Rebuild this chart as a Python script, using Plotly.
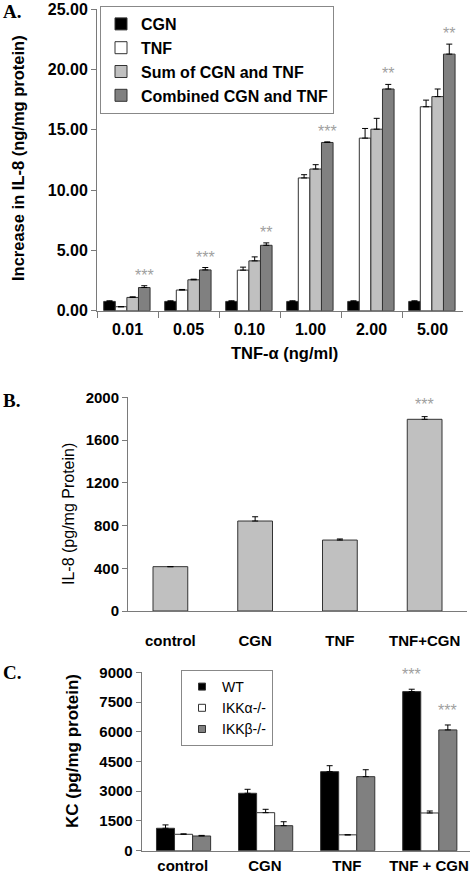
import plotly.graph_objects as go

W, H = 475, 874
FONT = "Arial, 'Liberation Sans', sans-serif"

# ---------------- data ----------------
a_categories = ["0.01", "0.05", "0.10", "1.00", "2.00", "5.00"]
a_cgn = [0.77, 0.77, 0.77, 0.77, 0.77, 0.77]
a_cgn_err = [0.05, 0.05, 0.05, 0.05, 0.05, 0.05]
a_tnf = [0.33, 1.71, 3.36, 11.0, 14.3, 16.9]
a_tnf_err = [0.0, 0.05, 0.25, 0.27, 0.8, 0.55]
a_sum = [1.10, 2.56, 4.13, 11.74, 15.04, 17.74]
a_sum_err = [0.05, 0.05, 0.33, 0.36, 0.9, 0.63]
a_comb = [1.92, 3.38, 5.42, 13.94, 18.37, 21.26]
a_comb_err = [0.15, 0.2, 0.2, 0.05, 0.38, 0.83]
a_stars = ["***", "***", "**", "***", "**", "**"]
a_yticks = [0, 5, 10, 15, 20, 25]

b_categories = ["control", "CGN", "TNF", "TNF+CGN"]
b_il8 = [415, 842, 664, 1794]
b_il8_err = [0, 40, 10, 25]
b_stars = ["", "", "", "***"]
b_yticks = [0, 400, 800, 1200, 1600, 2000]

c_categories = ["control", "CGN", "TNF", "TNF + CGN"]
c_wt = [1131, 2897, 3988, 8026]
c_wt_err = [170, 200, 300, 120]
c_ikka = [828, 1918, 800, 1903]
c_ikka_err = [20, 170, 0, 100]
c_ikkb = [742, 1262, 3735, 6093]
c_ikkb_err = [30, 200, 350, 250]
c_wt_stars = ["", "", "", "***"]
c_ikkb_stars = ["", "", "", "***"]
c_yticks = [0, 1500, 3000, 4500, 6000, 7500, 9000]

# ---------------- helpers ----------------
def px(x):
    return x / W

def py(y):
    return 1 - y / H

LINE = "#333333"
AXIS = "#7a7a7a"
STAR = dict(size=16, color="#a0a0a0", family=FONT)

def err(arr):
    return dict(type="data", array=arr, arrayminus=[0] * len(arr), symmetric=False,
                color="black", thickness=1, width=3)

fig = go.Figure()

# ---------------- panel A ----------------
a_series = [
    ("CGN", a_cgn, a_cgn_err, "#000000"),
    ("TNF", a_tnf, a_tnf_err, "#ffffff"),
    ("Sum of CGN and TNF", a_sum, a_sum_err, "#c0c0c0"),
    ("Combined CGN and TNF", a_comb, a_comb_err, "#808080"),
]
a_w = 0.19
a_off = [-0.39, -0.20, -0.01, 0.18]
for k, (name, vals, e, col) in enumerate(a_series):
    fig.add_trace(go.Bar(
        x=a_categories, y=vals, name=name, width=a_w, offset=a_off[k],
        marker=dict(color=col, line=dict(color=LINE, width=1)),
        error_y=err(e), xaxis="x", yaxis="y", legend="legend",
        legendgroup=name,
    ))

for i, s in enumerate(a_stars):
    if s:
        fig.add_annotation(x=i + a_off[3] + a_w / 2, y=a_comb[i] + a_comb_err[i],
                           xref="x", yref="y", text=s, showarrow=False,
                           xanchor="center", yanchor="bottom", yshift=0, font=STAR)

# ---------------- panel B ----------------
b_w = 0.41
fig.add_trace(go.Bar(
    x=b_categories, y=b_il8, width=b_w, offset=-b_w / 2, showlegend=False,
    marker=dict(color="#c0c0c0", line=dict(color=LINE, width=1)),
    error_y=err(b_il8_err), xaxis="x2", yaxis="y2",
))
for i, s in enumerate(b_stars):
    if s:
        fig.add_annotation(x=i, y=b_il8[i] + b_il8_err[i],
                           xref="x2", yref="y2", text=s, showarrow=False,
                           xanchor="center", yanchor="bottom", yshift=2, font=STAR)

# ---------------- panel C ----------------
c_series = [
    ("WT", c_wt, c_wt_err, "#000000"),
    ("IKKα-/-", c_ikka, c_ikka_err, "#ffffff"),
    ("IKKβ-/-", c_ikkb, c_ikkb_err, "#808080"),
]
c_w = 0.22
c_off = [-0.32, -0.10, 0.12]
for k, (name, vals, e, col) in enumerate(c_series):
    fig.add_trace(go.Bar(
        x=c_categories, y=vals, name=name, width=c_w, offset=c_off[k],
        marker=dict(color=col, line=dict(color=LINE, width=1)),
        error_y=err(e), xaxis="x3", yaxis="y3", showlegend=False,
    ))
    # legend proxy with small square symbol
    fig.add_trace(go.Scatter(
        x=[None], y=[None], mode="markers", name=name,
        marker=dict(symbol="square", size=7, color=col, line=dict(color=LINE, width=1)),
        xaxis="x3", yaxis="y3", legend="legend2", legendgroup="c" + name,
    ))

for stars, vals, errs, k in [(c_wt_stars, c_wt, c_wt_err, 0), (c_ikkb_stars, c_ikkb, c_ikkb_err, 2)]:
    for i, s in enumerate(stars):
        if s:
            fig.add_annotation(x=i + c_off[k] + c_w / 2, y=vals[i] + errs[i],
                               xref="x3", yref="y3", text=s, showarrow=False,
                               xanchor="center", yanchor="bottom", yshift=4, font=STAR)

# ---------------- axes ----------------
bold16 = dict(size=16, family=FONT, color="black", weight="bold")
bold15 = dict(size=15, family=FONT, color="black", weight="bold")

common_x = dict(type="category", showline=True, linecolor=AXIS, linewidth=1, showgrid=False,
                zeroline=False, fixedrange=True, automargin=False,
                ticklabeloverflow="allow")
common_y = dict(showline=True, linecolor=AXIS, linewidth=1, showgrid=False,
                zeroline=False, ticks="outside", ticklen=5, tickcolor=AXIS,
                fixedrange=True, automargin=False, ticklabeloverflow="allow")

fig.update_layout(
    template="none",
    xaxis=dict(domain=[px(97), px(463)], anchor="y", ticks="outside", ticklen=6,
               tickcolor=AXIS, tickson="boundaries", tickfont=bold16,
               categoryorder="array", categoryarray=a_categories,
               range=[-0.5, 5.5], ticklabelstandoff=4, **common_x),
    yaxis=dict(domain=[py(310.7), py(9)], anchor="x", range=[0, 25],
               tickvals=a_yticks, tickformat=".2f", tickfont=bold16, **common_y),
    xaxis2=dict(domain=[px(128), px(467)], anchor="y2", ticks="", tickfont=bold15,
                categoryorder="array", categoryarray=b_categories,
                range=[-0.5, 3.5], ticklabelstandoff=16, **common_x),
    yaxis2=dict(domain=[py(611), py(397.3)], anchor="x2", range=[0, 2000],
                tickvals=b_yticks, tickfont=bold15, **common_y),
    xaxis3=dict(domain=[px(141.7), px(470)], anchor="y3", ticks="", tickfont=bold15,
                categoryorder="array", categoryarray=c_categories,
                range=[-0.5, 3.5], ticklabelstandoff=1, **common_x),
    yaxis3=dict(domain=[py(850.7), py(672.3)], anchor="x3", range=[0, 9000],
                tickvals=c_yticks, tickfont=bold15, **common_y),
)

# axis titles and panel letters
fig.add_annotation(text="Increase in IL-8 (ng/mg protein)", xref="paper", yref="paper",
                   x=px(18), y=py(158), textangle=-90, showarrow=False,
                   xanchor="center", yanchor="middle",
                   font=dict(size=16.5, family=FONT, color="black", weight="bold"))
fig.add_annotation(text="TNF-α (ng/ml)", xref="paper", yref="paper",
                   x=px(284), y=py(353), showarrow=False,
                   xanchor="center", yanchor="middle",
                   font=dict(size=16.5, family=FONT, color="black", weight="bold"))
fig.add_annotation(text="IL-8 (pg/mg Protein)", xref="paper", yref="paper",
                   x=px(68), y=py(514), textangle=-90, showarrow=False,
                   xanchor="center", yanchor="middle",
                   font=dict(size=16, family=FONT, color="black"))
fig.add_annotation(text="KC (pg/mg protein)", xref="paper", yref="paper",
                   x=px(72), y=py(751), textangle=-90, showarrow=False,
                   xanchor="center", yanchor="middle",
                   font=dict(size=17, family=FONT, color="black", weight="bold"))

for letter, yy in [("A.", 11), ("B.", 400), ("C.", 672)]:
    fig.add_annotation(text=letter, xref="paper", yref="paper", x=px(1), y=py(yy),
                       xanchor="left", yanchor="middle", showarrow=False,
                       font=dict(size=19, family="'Liberation Serif', 'Times New Roman', serif",
                                 color="black", weight="bold"))

fig.update_layout(
    width=W, height=H, margin=dict(l=0, r=0, t=0, b=0, autoexpand=False),
    paper_bgcolor="white", plot_bgcolor="white",
    barmode="overlay",
    font=dict(family=FONT, color="black"),
    legend=dict(x=px(100), y=py(6), xanchor="left", yanchor="top",
                bordercolor="#888888", borderwidth=1, bgcolor="white",
                font=dict(size=16, family=FONT, color="black", weight="bold"),
                tracegroupgap=4, traceorder="normal"),
    legend2=dict(x=px(181), y=py(670), xanchor="left", yanchor="top",
                 bordercolor="#888888", borderwidth=1, bgcolor="white",
                 font=dict(size=14, family=FONT, color="black"),
                 tracegroupgap=0, traceorder="normal"),
)

fig.write_html("out.html", config={"displayModeBar": False},
               post_script="document.body.style.margin='0';document.body.style.overflow='hidden';")
